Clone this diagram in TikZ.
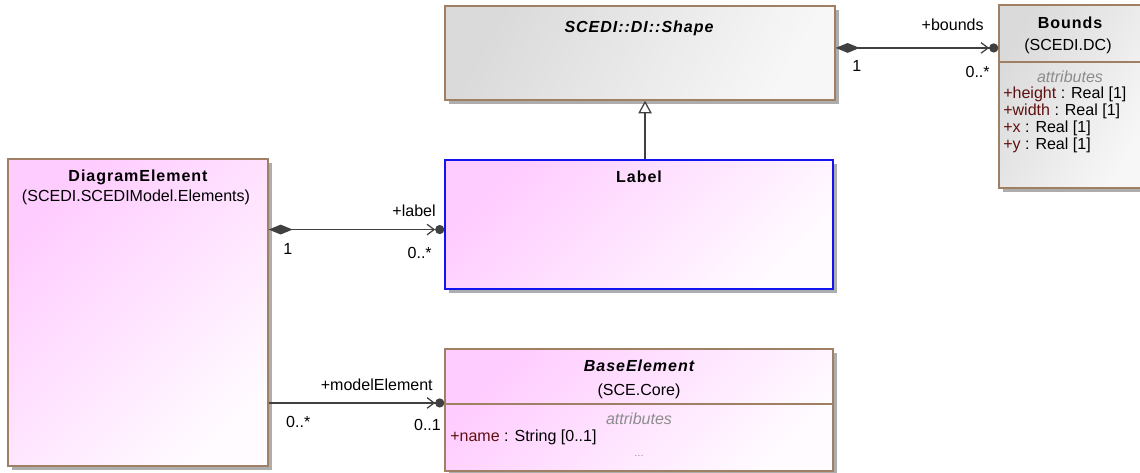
\documentclass[tikz,border=0pt]{standalone}
\usepackage{fontspec}
\setmainfont{Liberation Sans}
\usetikzlibrary{arrows.meta}
\usetikzlibrary{fit}
\usetikzlibrary{shadows}

\definecolor{umlBorder}{RGB}{160,128,100}
\definecolor{umlPink}{RGB}{255,204,255}
\definecolor{umlGray}{RGB}{218,218,218}
\definecolor{umlBlue}{RGB}{20,20,240}
\definecolor{umlLine}{RGB}{64,64,64}
\definecolor{attrName}{RGB}{95,15,15}
\newcommand{\attrname}[1]{\textcolor{attrName}{#1}}
\newcommand{\basefont}{\fontsize{11.4}{13.7}\selectfont}

\tikzset{
  classbox/.style={draw=umlBorder, line width=1pt, inner sep=0pt,
    drop shadow={shadow xshift=2.5pt, shadow yshift=-2.5pt, fill=black!32, opacity=1}},
  pinkbox/.style={classbox, left color=umlPink, right color=umlPink!8, shading angle=45},
  graybox/.style={classbox, left color=umlGray, right color=black!3, shading angle=60},
  classname/.style={inner sep=0pt, font=\basefont\bfseries\addfontfeatures{LetterSpace=6}},
  abstractname/.style={inner sep=0pt, font=\basefont\bfseries\itshape\addfontfeatures{LetterSpace=6}},
  compart/.style={inner sep=0pt, text=black!45, font=\basefont\itshape},
  attr/.style={inner sep=0pt, anchor=west},
  assoc/.style={draw=umlLine, line width=0.9pt},
  navend/.style={-{Straight Barb[length=5pt, width=7.5pt] Circle[length=6.5pt]}},
  compend/.style={{Diamond[length=17pt, width=7pt]}-{Straight Barb[length=5pt, width=7.5pt] Circle[length=6.5pt]}},
  role/.style={inner sep=0pt}
}

\begin{document}
\begin{tikzpicture}[x=0.025cm, y=-0.025cm, font=\basefont]
\useasboundingbox (0,0) rectangle (1140,473);

\node[graybox, fit={(445,6) (835,100)}] (shape) {};
\node[graybox, fit={(999,5) (1146,188)}] (bounds) {};
\node[pinkbox, draw=umlBlue, fit={(445,160) (833,289)}] (label) {};
\node[pinkbox, fit={(8,159) (268,466)}] (diagram) {};
\node[pinkbox, fit={(445,349) (833,471)}] (base) {};

\draw[umlBorder, line width=1pt] (bounds.west |- 0,62) -- (bounds.east |- 0,62);
\draw[umlBorder, line width=1pt] (base.west |- 0,404) -- (base.east |- 0,404);

\node[abstractname] (shapeName) at (639,28) {SCEDI::DI::Shape};

\node[classname] (boundsName) at (1070,23) {Bounds};
\node[inner sep=0pt] (boundsPkg) at (1068,46) {(SCEDI.DC)};
\node[compart] (boundsAttr) at (1070,77) {attributes};
\node[attr] (bHeight) at (1003,94) {\attrname{+height} : Real [1]};
\node[attr] (bWidth) at (1003,111) {\attrname{+width} : Real [1]};
\node[attr] (bX) at (1003,128) {\attrname{+x} : Real [1]};
\node[attr] (bY) at (1003,145) {\attrname{+y} : Real [1]};

\node[classname] (labelName) at (639,177) {Label};

\node[classname] (diagramName) at (138,177) {DiagramElement};
\node[inner sep=0pt] (diagramPkg) at (136,197) {(SCEDI.SCEDIModel.Elements)};

\node[abstractname] (baseName) at (639,366) {BaseElement};
\node[inner sep=0pt] (basePkg) at (639,391) {(SCE.Core)};
\node[compart] (baseAttr) at (639,419) {attributes};
\node[attr] (bName) at (450,437) {\attrname{+name} : String [0..1]};
\node[compart, font=\scriptsize] (baseMore) at (639,456) {\ldots};

\coordinate (boundsOut) at ([yshift=3.6pt]shape.east);
\coordinate (labelIn) at ([yshift=-3.6pt]label.west);
\coordinate (baseIn) at ([yshift=5pt]base.west);

\draw[assoc, compend]
  (boundsOut) -- (boundsOut -| bounds.west)
  node[role, at end, anchor=south east, xshift=-10pt, yshift=12pt] (boundsRole) {+bounds}
  node[role, at start, anchor=north west, xshift=11.4pt, yshift=-8.5pt] (boundsSrc) {1}
  node[role, at end, anchor=north east, xshift=-5.7pt, yshift=-12.8pt] (boundsDst) {0..*};

\draw[assoc, compend]
  (labelIn -| diagram.east) -- (labelIn)
  node[role, at end, anchor=south east, xshift=-5.7pt, yshift=8.5pt] (labelRole) {+label}
  node[role, at start, anchor=north west, xshift=10pt, yshift=-9.2pt] (labelSrc) {1}
  node[role, at end, anchor=north east, xshift=-8.5pt, yshift=-12pt] (labelDst) {0..*};

\draw[assoc, navend]
  (baseIn -| diagram.east) -- (baseIn)
  node[role, at end, anchor=south east, xshift=-7.8pt, yshift=8.5pt] (baseRole) {+modelElement}
  node[role, at start, anchor=north west, xshift=12pt, yshift=-9.2pt] (baseSrc) {0..*}
  node[role, at end, anchor=north east, xshift=-2pt, yshift=-11.4pt] (baseDst) {0..1};

\draw[assoc, -{Triangle[open, length=9pt, width=9.5pt, fill=white]}]
  ([xshift=4.3pt]label.north) -- ([xshift=4.3pt]label.north |- shape.south);
\end{tikzpicture}
\end{document}
